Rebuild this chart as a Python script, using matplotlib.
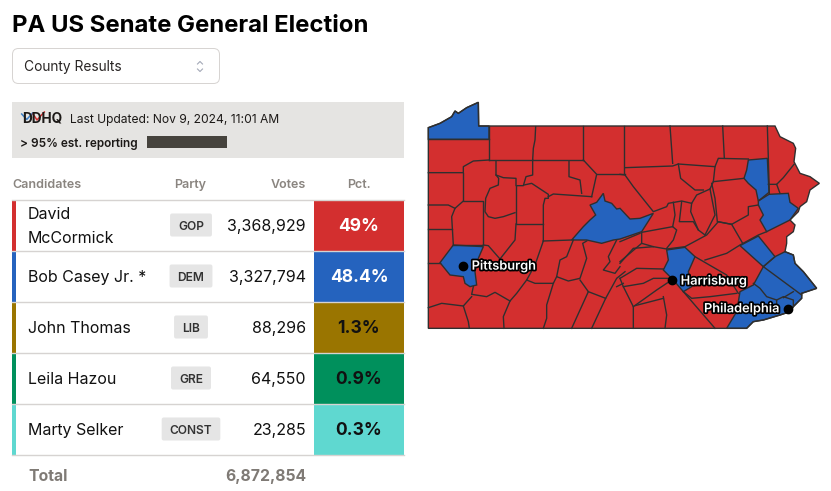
import matplotlib
matplotlib.use('Agg')
import matplotlib.pyplot as plt
import matplotlib.patheffects as pe
from matplotlib.patches import Polygon, Rectangle, FancyBboxPatch

plt.rcParams['font.family'] = ['Inter', 'DejaVu Sans']

# table data
candidates = ['David\nMcCormick', 'Bob Casey Jr. *', 'John Thomas', 'Leila Hazou', 'Marty Selker']
parties = ['GOP', 'DEM', 'LIB', 'GRE', 'CONST']
votes = [3368929, 3327794, 88296, 64550, 23285]
pcts = ['49%', '48.4%', '1.3%', '0.9%', '0.3%']
total_votes = 6872854
colors = ['#d32f2f', '#2563be', '#9a7500', '#00905c', '#5fd8d0']
pct_text_colors = ['white', 'white', '#111111', '#111111', '#111111']

# map geometry, in map units (3 units = 1 pixel)
def east(pts):
    return [(x + 600, y) for x, y in pts]

state_outline = [(25, 38), (60, 25), (95, 5), (105, -12), (115, -5), (140, -22), (175, -38), (176, 33)] + east([
    (465, 33), (480, 65), (500, 75), (520, 85), (527, 100), (522, 140), (540, 175), (570, 185), (598, 205),
    (570, 225), (560, 260), (540, 275), (535, 290), (510, 315), (525, 330), (520, 350), (500, 365), (500, 385),
    (495, 410), (520, 420), (525, 445), (550, 470), (590, 520), (560, 530), (545, 535), (545, 550), (520, 575),
    (510, 590), (480, 600), (430, 615), (400, 620), (380, 640)]) + [(25, 640)]

dem_counties = [
    # Erie
    [(25, 38), (60, 25), (95, 5), (105, -12), (115, -5), (140, -22), (175, -38), (176, 33), (207, 33), (207, 73), (25, 73)],
    # Allegheny
    [(60, 443), (100, 390), (190, 395), (175, 430), (165, 470), (170, 510), (150, 515), (135, 505), (130, 485), (90, 480)],
    # Centre
    [(455, 375), (490, 335), (510, 315), (527, 300), (510, 270), (530, 262), (550, 235), (555, 258), (575, 265),
     (590, 282), (600, 280), (630, 312), (660, 310), (700, 295), (665, 350), (600, 372), (580, 375), (545, 385), (500, 375)],
    # Dauphin
    east([(140, 405), (195, 397), (225, 425), (205, 470), (215, 515), (190, 530), (160, 495), (130, 465), (145, 435)]),
    # Lackawanna
    east([(385, 135), (442, 130), (447, 232), (415, 258), (408, 225), (385, 205), (372, 190), (380, 165)]),
    # Monroe
    east([(415, 258), (447, 238), (505, 235), (510, 262), (535, 280), (510, 315), (440, 350), (420, 315), (430, 300), (415, 270)]),
    # Lehigh
    east([(360, 392), (415, 363), (465, 425), (430, 455)]),
    # southeast
    east([(430, 455), (465, 425), (495, 410), (520, 420), (525, 445), (550, 470), (590, 520), (560, 530), (545, 535),
          (545, 550), (520, 575), (510, 590), (480, 600), (430, 615), (400, 620), (380, 640), (320, 640), (350, 590),
          (360, 530), (400, 510)]),
]

borders_west = [
    [(25, 73), (207, 73)], [(207, 33), (207, 135)], [(347, 35), (345, 75), (340, 100), (338, 135)],
    [(490, 33), (490, 135)], [(207, 135), (338, 135), (435, 135), (490, 135)],
    [(25, 173), (130, 173), (130, 155), (160, 138), (207, 135)],
    [(228, 137), (228, 180), (236, 190), (235, 210), (210, 220), (197, 250), (195, 290), (205, 305), (225, 310), (250, 305), (285, 293)],
    [(228, 180), (250, 188), (288, 190), (288, 212), (310, 212), (318, 185), (338, 180), (338, 135)],
    [(312, 210), (335, 205), (385, 238), (385, 250), (375, 250), (370, 270), (370, 378)],
    [(385, 245), (400, 237), (515, 245)],
    [(447, 140), (447, 185), (480, 195), (485, 235)], [(490, 135), (530, 178), (515, 245)], [(530, 178), (615, 178)],
    [(25, 270), (85, 270), (105, 280)], [(130, 258), (105, 280), (95, 305), (100, 390)],
    [(130, 173), (130, 258), (190, 258), (190, 390)], [(100, 390), (190, 390)], [(25, 343), (97, 343)], [(25, 443), (60, 443)],
    [(288, 212), (288, 327), (370, 327)], [(288, 327), (285, 375), (240, 432), (205, 392), (190, 390)],
    [(370, 378), (455, 375)], [(370, 378), (345, 450), (320, 495), (345, 505), (400, 505), (410, 485)],
    [(320, 495), (290, 535), (270, 558), (250, 605), (252, 640)],
    [(270, 558), (225, 532), (200, 545), (155, 538), (160, 515)],
    [(25, 578), (65, 565), (130, 573), (155, 545)], [(130, 573), (145, 620), (148, 640)],
    [(460, 375), (440, 425), (420, 435), (410, 485), (445, 498), (480, 490), (500, 430), (488, 385), (500, 378)],
    [(400, 505), (380, 570), (380, 610), (370, 640)],
    [(480, 495), (505, 530), (480, 585), (455, 640)], [(505, 530), (557, 550), (515, 640)],
    [(557, 550), (590, 490), (615, 470)],
    [(590, 375), (565, 425), (570, 440), (550, 465), (585, 475), (600, 455)],
]
borders_east = [
    [(12, 33), (12, 178)], [(150, 33), (158, 145)], [(308, 33), (313, 130)], [(442, 33), (445, 130), (448, 235)],
    [(15, 158), (158, 153), (175, 147), (285, 155), (295, 130), (385, 132)],
    [(175, 147), (182, 190), (225, 225), (250, 225)],
    [(0, 178), (15, 180), (40, 215), (100, 290), (140, 275), (145, 265), (185, 258), (215, 265), (230, 240), (270, 222), (280, 200), (285, 155)],
    [(280, 200), (372, 190)], [(275, 205), (285, 250), (292, 320), (335, 328)],
    [(270, 222), (285, 300), (255, 360)], [(215, 265), (212, 290), (235, 345), (255, 360)],
    [(185, 260), (178, 320), (220, 320), (235, 345)],
    [(160, 262), (165, 300), (158, 335), (170, 345), (160, 375), (140, 400)], [(158, 335), (65, 352), (65, 385), (100, 395), (140, 402)],
    [(140, 402), (195, 395), (260, 360), (295, 320), (335, 328), (368, 385)],
    [(255, 435), (320, 415), (360, 390), (415, 360), (440, 350)],
    [(225, 425), (320, 480), (355, 535)], [(190, 530), (285, 640)], [(190, 530), (215, 550), (270, 545), (350, 535)],
    [(335, 328), (385, 300), (385, 275), (415, 270)],
    [(445, 208), (470, 208), (480, 235)], [(470, 208), (490, 188), (522, 148)],
    [(430, 455), (545, 540)], [(400, 505), (420, 520), (440, 545), (470, 555), (470, 585)],
    [(470, 555), (490, 545), (520, 555), (520, 575)], [(520, 530), (490, 548)],
    [(0, 445), (40, 400), (100, 395)], [(0, 490), (50, 460), (130, 462)],
    [(0, 490), (10, 515), (40, 575), (40, 640)], [(10, 515), (70, 505), (100, 490), (155, 490)],
    [(155, 495), (110, 525), (40, 575)], [(45, 572), (130, 550)], [(130, 545), (140, 600), (135, 640)],
    [(0, 380), (60, 355)], [(65, 385), (0, 440)], [(-10, 515), (10, 505)],
]

# cities: name, dot position, label anchor
cities = ['Pittsburgh', 'Harrisburg', 'Philadelphia']
city_x = [128, 756, 1103]
city_y = [452, 496, 582]
label_x = [155, 782, 852]
label_y = [455, 500, 583]

fig = plt.figure(figsize=(8.31, 4.91), dpi=100)
ax = fig.add_axes([0, 0, 1, 1])
ax.set_xlim(0, 831)
ax.set_ylim(491, 0)
ax.axis('off')

# heading
ax.text(12, 32, 'PA US Senate General Election', fontsize=17.2, fontweight='bold', color='black', va='baseline')
ax.add_patch(FancyBboxPatch((12.5, 48.5), 207, 35, boxstyle='round,pad=0,rounding_size=6', fc='white', ec='#d6d3d1', lw=0.7))
ax.text(24, 71, 'County Results', fontsize=9.9, color='#292524', va='baseline')
ax.plot([197.5, 200, 202.5], [64, 61.5, 64], color='#a3a8b8', lw=0.8)
ax.plot([197.5, 200, 202.5], [69, 71.5, 69], color='#a3a8b8', lw=0.8)

# update banner
ax.add_patch(Rectangle((12, 102), 392, 56, fc='#e5e4e2', ec='none'))
ax.text(22, 122.5, 'DDHQ', fontsize=9.8, fontweight='bold', color='#1c1917', va='baseline')
ax.plot([21.7, 26.7, 32.7], [114, 119.5, 113], color='#3b7ec4', lw=1.1)
ax.plot([33, 37, 44.3], [114, 120, 112], color='#d32f2f', lw=1.1)
ax.text(70, 122.5, 'Last Updated: Nov 9, 2024, 11:01 AM', fontsize=8.7, color='#1c1917', va='baseline')
ax.text(20, 146.7, '> 95% est. reporting', fontsize=8.5, fontweight='semibold', color='#1c1917', va='baseline')
ax.add_patch(Rectangle((147, 136), 80, 12, fc='#46433d', ec='none'))

# table header
header_color = '#8a8580'
ax.text(12.5, 187.7, 'Candidates', fontsize=9, fontweight='semibold', color=header_color, va='baseline')
ax.text(190.5, 187.7, 'Party', fontsize=9, fontweight='semibold', color=header_color, va='baseline', ha='center')
ax.text(306, 187.7, 'Votes', fontsize=9, fontweight='semibold', color=header_color, va='baseline', ha='right')
ax.text(359, 187.7, 'Pct.', fontsize=9, fontweight='semibold', color=header_color, va='baseline', ha='center')

# table rows
row_top = 199.5
row_h = 51
renderer = fig.canvas.get_renderer()
for i in range(len(candidates)):
    top = row_top + i * row_h
    mid = top + row_h / 2
    base = mid + 6
    ax.add_patch(Rectangle((12, top), 4, row_h, fc=colors[i], ec='none'))
    ax.add_patch(Rectangle((314, top), 90, row_h, fc=colors[i], ec='none'))
    ax.plot([12, 404], [top, top], color='#d6d3d1', lw=1, zorder=3)
    name_lines = candidates[i].split('\n')
    for j, part in enumerate(name_lines):
        ax.text(28, base + (j - (len(name_lines) - 1) / 2) * 24, part, fontsize=11.5, color='#111111', va='baseline')
    badge = ax.text(191, mid + 5, parties[i], fontsize=8.6, fontweight='semibold', color='#333333',
                    va='baseline', ha='center', zorder=3)
    w = badge.get_window_extent(renderer).width + 16
    ax.add_patch(FancyBboxPatch((191 - w / 2, mid - 11.5), w, 23, boxstyle='round,pad=0,rounding_size=2',
                                fc='#e5e5e5', ec='none', zorder=2))
    ax.text(306, base, format(votes[i], ','), fontsize=11.5, color='#111111', va='baseline', ha='right')
    ax.text(359, base, pcts[i], fontsize=12.6, fontweight='bold', color=pct_text_colors[i], va='baseline', ha='center')
ax.plot([12, 404], [row_top + 5 * row_h] * 2, color='#d6d3d1', lw=1, zorder=3)
ax.text(28.5, 480.7, 'Total', fontsize=11.3, fontweight='bold', color='#7f7a75', va='baseline')
ax.text(306, 480.7, format(total_votes, ','), fontsize=11.3, fontweight='bold', color='#7f7a75', va='baseline', ha='right')

# map, x 420-831 px and y 95-345 px
mp = fig.add_axes([420 / 831, 1 - 345 / 491, 411 / 831, 250 / 491])
mp.set_xlim(0, 1233)
mp.set_ylim(690, -60)
mp.axis('off')
mp.patch.set_alpha(0)

line_color = '#2f2f2f'
mp.add_patch(Polygon(state_outline, closed=True, fc=colors[0], ec='none', zorder=1))
for county in dem_counties:
    mp.add_patch(Polygon(county, closed=True, fc=colors[1], ec='none', zorder=2))
for line in borders_west + [east(b) for b in borders_east]:
    mp.plot([p[0] for p in line], [p[1] for p in line], color=line_color, lw=1.0, zorder=3, solid_joinstyle='round')
for county in dem_counties:
    mp.add_patch(Polygon(county, closed=True, fc='none', ec=line_color, lw=1.0, zorder=3))
mp.add_patch(Polygon(state_outline, closed=True, fc='none', ec=line_color, lw=1.0, zorder=4))

for i in range(len(cities)):
    mp.scatter([city_x[i]], [city_y[i]], s=36, color='black', zorder=5)
    mp.text(label_x[i], label_y[i], cities[i], fontsize=9.2, fontweight='semibold', color='white', va='center', zorder=6,
            path_effects=[pe.withStroke(linewidth=2.5, foreground='black')])

fig.savefig('out.png', dpi=100)
